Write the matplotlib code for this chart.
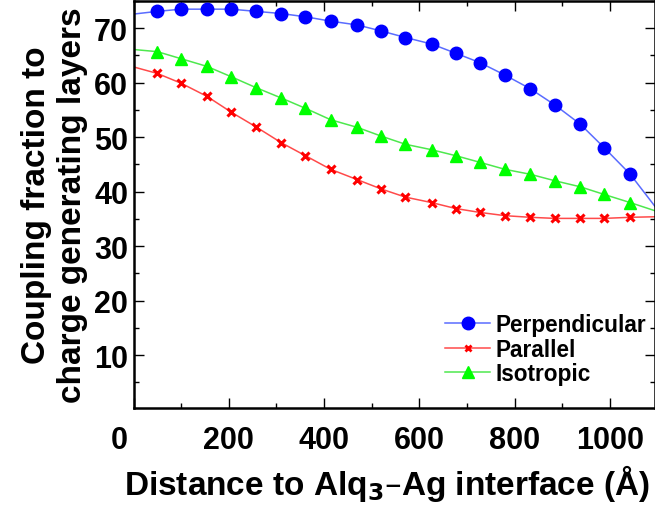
import matplotlib
matplotlib.use("Agg")
import matplotlib.pyplot as plt
import matplotlib.transforms as mtransforms
from matplotlib.lines import Line2D
from matplotlib.ticker import MultipleLocator

plt.rcParams['font.family'] = ['Liberation Sans', 'DejaVu Sans']
plt.rcParams['font.weight'] = 'bold'

# distance of the plotted points (Angstrom)
dist = [50, 100, 154, 205, 257, 310, 361, 414, 470, 520,
        571, 626, 677, 727, 780, 833, 885, 938, 988, 1043]
perpendicular = [73.1, 73.5, 73.5, 73.5, 73.1, 72.7, 72.1, 71.3, 70.6, 69.5,
                 68.3, 67.1, 65.4, 63.7, 61.4, 58.9, 55.9, 52.4, 48.1, 43.2]
parallel = [61.7, 59.9, 57.5, 54.6, 51.9, 49.0, 46.6, 44.1, 42.2, 40.5,
            39.0, 38.0, 36.9, 36.2, 35.6, 35.3, 35.1, 35.1, 35.1, 35.3]
isotropic = [65.7, 64.4, 63.0, 61.1, 59.1, 57.2, 55.3, 53.2, 51.8, 50.2,
             48.7, 47.7, 46.6, 45.4, 44.1, 43.2, 42.0, 40.9, 39.5, 38.0]
# the lines run on to the axis edges
line_ends = [0, 1095]
perp_ends = [72.6, 37.3]
par_ends = [62.9, 35.4]
iso_ends = [66.1, 36.5]

series = [
    ("Perpendicular", perpendicular, perp_ends, '#5a6cff', 'blue', 'o', 9),
    ("Parallel", parallel, par_ends, '#ff4a4a', 'red', 'x', 6),
    ("Isotropic", isotropic, iso_ends, '#4ee84e', '#00ff00', '^', 9),
]

fig = plt.figure(figsize=(6.55, 5.10), dpi=100)
ax = fig.add_axes([133.6 / 655, 1 - 409 / 510, 1 - 133.6 / 655, 407 / 510])

handles = []
for name, vals, ends, lc, mc, mk, ms in series:
    xs = [line_ends[0]] + dist + [line_ends[1]]
    ys = [ends[0]] + vals + [ends[1]]
    ax.plot(xs, ys, '-', color=lc, lw=1.1, zorder=2)
    ax.plot(dist, vals, linestyle='none', marker=mk, ms=ms, color=mc,
            mec=mc, mew=2.2 if mk == 'x' else 1, zorder=3)
    handles.append(Line2D([], [], color=lc, lw=1.1, marker=mk,
                          ms=ms if mk != 'x' else 4, mfc=mc, mec=mc,
                          mew=2 if mk == 'x' else 1, label=name))

ax.set_xlim(0, 1095)
ax.set_ylim(0.3, 75)
ax.xaxis.set_major_locator(MultipleLocator(200))
ax.xaxis.set_minor_locator(MultipleLocator(100))
ax.yaxis.set_major_locator(MultipleLocator(10))
ax.yaxis.set_minor_locator(MultipleLocator(5))
ax.tick_params(which='both', direction='in', top=True, right=True,
               labelsize=22, width=1)
ax.tick_params(which='major', length=7)
ax.tick_params(which='minor', length=3.5)
ax.tick_params(axis='x', pad=12)
ax.tick_params(axis='y', pad=4)
for sp in ax.spines.values():
    sp.set_linewidth(1.8)

fig.canvas.draw()
# the "0" label sits left of the axis origin in the original
shift = mtransforms.ScaledTranslation(-14 / 100, 0, fig.dpi_scale_trans)
for tick in ax.xaxis.get_major_ticks():
    if tick.label1.get_text() == '0':
        tick.label1.set_transform(tick.label1.get_transform() + shift)

ax.set_xlabel("Distance to Alq$_\\mathbf{3}$\u2013Ag interface (\u00c5)",
              fontsize=24, fontweight='bold')
ax.xaxis.set_label_coords(0.486, -0.133)
ax.set_ylabel("Coupling fraction to\ncharge generating layers",
              fontsize=24, fontweight='bold', linespacing=1.2)
ax.yaxis.set_label_coords(-0.088, 0.5)

ax.legend(handles=handles, loc='upper left', bbox_to_anchor=(0.597, 0.2325),
          frameon=False, fontsize=16.3, handlelength=2.0, handletextpad=0.25,
          borderpad=0, borderaxespad=0, labelspacing=0.06, numpoints=1)

fig.savefig("out.png", dpi=100)
